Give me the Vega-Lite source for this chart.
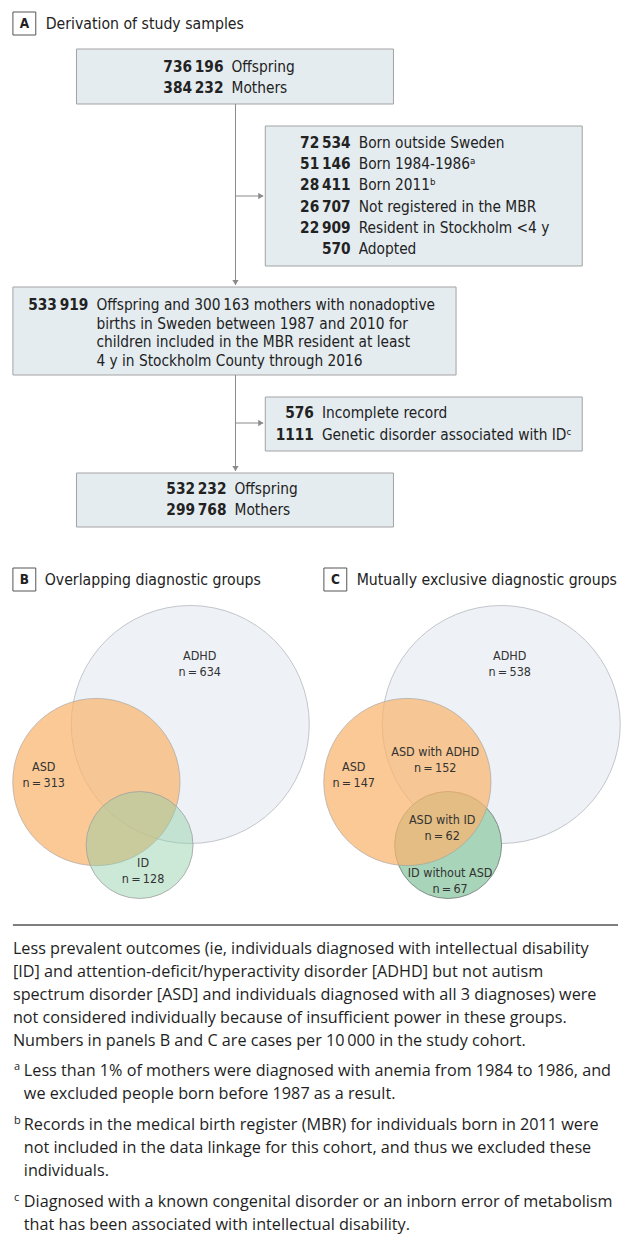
{
  "$schema": "https://vega.github.io/schema/vega-lite/v6.json",
  "width": 622,
  "height": 1244,
  "autosize": {"type": "fit", "contains": "padding"},
  "padding": 0,
  "background": "white",
  "config": {"view": {"stroke": null}},
  "datasets": {
    "boxes": [
      {"box": "top", "x1": 77, "x2": 396, "y1": 49, "y2": 104},
      {"box": "excl1", "x1": 267, "x2": 586, "y1": 126, "y2": 266},
      {"box": "cohort", "x1": 13, "x2": 459, "y1": 287, "y2": 375},
      {"box": "excl2", "x1": 267, "x2": 586, "y1": 397, "y2": 451},
      {"box": "final", "x1": 77, "x2": 396, "y1": 473, "y2": 527}
    ],
    "arrows": [
      {"x1": 237, "y1": 104, "x2": 237, "y2": 285, "dir": "down"},
      {"x1": 237, "y1": 196, "x2": 265, "y2": 196, "dir": "right"},
      {"x1": 237, "y1": 375, "x2": 237, "y2": 471, "dir": "down"},
      {"x1": 237, "y1": 423, "x2": 265, "y2": 423, "dir": "right"}
    ],
    "flow": [
      {"box": "top", "num": 736196, "label": "Offspring", "x": 229, "y": 67},
      {"box": "top", "num": 384232, "label": "Mothers", "x": 229, "y": 88},
      {"box": "excl1", "num": 72534, "label": "Born outside Sweden", "x": 357, "y": 143},
      {"box": "excl1", "num": 51146, "label": "Born 1984-1986ᵃ", "x": 357, "y": 164},
      {"box": "excl1", "num": 28411, "label": "Born 2011ᵇ", "x": 357, "y": 185},
      {"box": "excl1", "num": 26707, "label": "Not registered in the MBR", "x": 357, "y": 207},
      {"box": "excl1", "num": 22909, "label": "Resident in Stockholm <4 y", "x": 357, "y": 228},
      {"box": "excl1", "num": 570, "label": "Adopted", "x": 357, "y": 249},
      {"box": "cohort", "num": 533919, "label": "Offspring and 300\u2009163 mothers with nonadoptive", "x": 93, "y": 305},
      {"box": "cohort", "num": null, "label": "births in Sweden between 1987 and 2010 for", "x": 93, "y": 323.5},
      {"box": "cohort", "num": null, "label": "children included in the MBR resident at least", "x": 93, "y": 342},
      {"box": "cohort", "num": null, "label": "4 y in Stockholm County through 2016", "x": 93, "y": 360.5},
      {"box": "excl2", "num": 576, "label": "Incomplete record", "x": 320, "y": 413},
      {"box": "excl2", "num": 1111, "label": "Genetic disorder associated with IDᶜ", "x": 320, "y": 435},
      {"box": "final", "num": 532232, "label": "Offspring", "x": 232, "y": 489},
      {"box": "final", "num": 299768, "label": "Mothers", "x": 232, "y": 510}
    ],
    "panels": [
      {"tag": "A", "title": "Derivation of study samples", "x1": 13, "x2": 36, "y1": 12, "y2": 35, "cx": 24.5, "cy": 23.5, "tx": 46},
      {"tag": "B", "title": "Overlapping diagnostic groups", "x1": 13, "x2": 36, "y1": 568, "y2": 591, "cx": 24.5, "cy": 579.5, "tx": 45},
      {"tag": "C", "title": "Mutually exclusive diagnostic groups", "x1": 326, "x2": 349, "y1": 568, "y2": 591, "cx": 337.5, "cy": 579.5, "tx": 359}
    ],
    "circles": [
      {"panel": "B", "set": "ADHD", "n": 634, "x": 191.5, "y": 724.5},
      {"panel": "B", "set": "ASD", "n": 313, "x": 97, "y": 782},
      {"panel": "B", "set": "ID", "n": 128, "x": 140.5, "y": 845},
      {"panel": "C", "set": "ADHD", "n": 634, "x": 504.5, "y": 724.5},
      {"panel": "C", "set": "ASD", "n": 313, "x": 410, "y": 782},
      {"panel": "C", "set": "ID", "n": 128, "x": 451, "y": 845}
    ],
    "vennLabels": [
      {"panel": "B", "group": "ADHD", "n": 634, "x": 201, "y": 656},
      {"panel": "B", "group": "ASD", "n": 313, "x": 44, "y": 767},
      {"panel": "B", "group": "ID", "n": 128, "x": 144, "y": 863},
      {"panel": "C", "group": "ADHD", "n": 538, "x": 513, "y": 656},
      {"panel": "C", "group": "ASD", "n": 147, "x": 356, "y": 767},
      {"panel": "C", "group": "ASD with ADHD", "n": 152, "x": 438, "y": 752},
      {"panel": "C", "group": "ASD with ID", "n": 62, "x": 445, "y": 820},
      {"panel": "C", "group": "ID without ASD", "n": 67, "x": 453, "y": 873}
    ],
    "separator": [{"x1": 13, "x2": 622, "y": 925}],
    "notes": [
      {"note": "main", "text": "Less prevalent outcomes (ie, individuals diagnosed with intellectual disability", "x": 13, "y": 949},
      {"note": "main", "text": "[ID] and attention-deficit/hyperactivity disorder [ADHD] but not autism", "x": 13, "y": 972},
      {"note": "main", "text": "spectrum disorder [ASD] and individuals diagnosed with all 3 diagnoses) were", "x": 13, "y": 995},
      {"note": "main", "text": "not considered individually because of insufficient power in these groups.", "x": 13, "y": 1018},
      {"note": "main", "text": "Numbers in panels B and C are cases per 10\u2009000 in the study cohort.", "x": 13, "y": 1041},
      {"note": "a", "text": "Less than 1% of mothers were diagnosed with anemia from 1984 to 1986, and", "x": 24, "y": 1071},
      {"note": "a", "text": "we excluded people born before 1987 as a result.", "x": 24, "y": 1094},
      {"note": "b", "text": "Records in the medical birth register (MBR) for individuals born in 2011 were", "x": 24, "y": 1125},
      {"note": "b", "text": "not included in the data linkage for this cohort, and thus we excluded these", "x": 24, "y": 1148},
      {"note": "b", "text": "individuals.", "x": 24, "y": 1171},
      {"note": "c", "text": "Diagnosed with a known congenital disorder or an inborn error of metabolism", "x": 24, "y": 1202},
      {"note": "c", "text": "that has been associated with intellectual disability.", "x": 24, "y": 1225}
    ],
    "noteMarks": [
      {"sup": "a", "x": 14, "y": 1071},
      {"sup": "b", "x": 14, "y": 1125},
      {"sup": "c", "x": 14, "y": 1202}
    ]
  },
  "layer": [
    {
      "data": {"name": "boxes"},
      "mark": {"type": "rect", "fill": "#e4ecf0", "stroke": "#a3a3a3", "strokeWidth": 1},
      "encoding": {
        "x": {"field": "x1", "type": "quantitative", "scale": {"domain": [0, 622], "nice": false, "zero": false}, "axis": null},
        "x2": {"field": "x2"},
        "y": {"field": "y1", "type": "quantitative", "scale": {"domain": [0, 1244], "nice": false, "zero": false, "reverse": true}, "axis": null},
        "y2": {"field": "y2"}
      }
    },
    {
      "data": {"name": "arrows"},
      "mark": {"type": "rule", "color": "#8a8a8a", "strokeWidth": 1},
      "encoding": {
        "x": {"field": "x1", "type": "quantitative", "scale": {"domain": [0, 622], "nice": false, "zero": false}, "axis": null},
        "x2": {"field": "x2"},
        "y": {"field": "y1", "type": "quantitative", "scale": {"domain": [0, 1244], "nice": false, "zero": false, "reverse": true}, "axis": null},
        "y2": {"field": "y2"}
      }
    },
    {
      "data": {"name": "arrows"},
      "mark": {"type": "point", "filled": true, "color": "#8a8a8a", "opacity": 1, "size": 40, "strokeWidth": 0},
      "encoding": {
        "x": {"field": "x2", "type": "quantitative", "scale": {"domain": [0, 622], "nice": false, "zero": false}, "axis": null},
        "y": {"field": "y2", "type": "quantitative", "scale": {"domain": [0, 1244], "nice": false, "zero": false, "reverse": true}, "axis": null},
        "shape": {"field": "dir", "type": "nominal", "scale": {"domain": ["down", "right"], "range": ["M0,0L-1,-1.6L1,-1.6Z", "M0,0L-1.6,-1L-1.6,1Z"]}, "legend": null}
      }
    },
    {
      "data": {"name": "flow"},
      "transform": [
        {"filter": "datum.num != null"},
        {"calculate": "datum.num >= 10000 ? replace(format(datum.num, ','), ',', '\u2009') : format(datum.num, 'd')", "as": "numText"}
      ],
      "mark": {"type": "text", "align": "right", "baseline": "middle", "dx": -4, "font": "DejaVu Sans Condensed, DejaVu Sans, sans-serif", "fontSize": 15.3, "fontWeight": "bold", "color": "#222222"},
      "encoding": {
        "x": {"field": "x", "type": "quantitative", "scale": {"domain": [0, 622], "nice": false, "zero": false}, "axis": null},
        "y": {"field": "y", "type": "quantitative", "scale": {"domain": [0, 1244], "nice": false, "zero": false, "reverse": true}, "axis": null},
        "text": {"field": "numText"}
      }
    },
    {
      "data": {"name": "flow"},
      "mark": {"type": "text", "align": "left", "baseline": "middle", "dx": 4, "font": "DejaVu Sans Condensed, DejaVu Sans, sans-serif", "fontSize": 15.3, "color": "#222222"},
      "encoding": {
        "x": {"field": "x", "type": "quantitative", "scale": {"domain": [0, 622], "nice": false, "zero": false}, "axis": null},
        "y": {"field": "y", "type": "quantitative", "scale": {"domain": [0, 1244], "nice": false, "zero": false, "reverse": true}, "axis": null},
        "text": {"field": "label"}
      }
    },
    {
      "data": {"name": "panels"},
      "mark": {"type": "rect", "fill": "white", "stroke": "#555555", "strokeWidth": 1},
      "encoding": {
        "x": {"field": "x1", "type": "quantitative", "scale": {"domain": [0, 622], "nice": false, "zero": false}, "axis": null},
        "x2": {"field": "x2"},
        "y": {"field": "y1", "type": "quantitative", "scale": {"domain": [0, 1244], "nice": false, "zero": false, "reverse": true}, "axis": null},
        "y2": {"field": "y2"}
      }
    },
    {
      "data": {"name": "panels"},
      "mark": {"type": "text", "align": "center", "baseline": "middle", "font": "DejaVu Sans Condensed, DejaVu Sans, sans-serif", "fontSize": 13.5, "fontWeight": "bold", "color": "#222222"},
      "encoding": {
        "x": {"field": "cx", "type": "quantitative", "scale": {"domain": [0, 622], "nice": false, "zero": false}, "axis": null},
        "y": {"field": "cy", "type": "quantitative", "scale": {"domain": [0, 1244], "nice": false, "zero": false, "reverse": true}, "axis": null},
        "text": {"field": "tag"}
      }
    },
    {
      "data": {"name": "panels"},
      "mark": {"type": "text", "align": "left", "baseline": "middle", "font": "DejaVu Sans Condensed, DejaVu Sans, sans-serif", "fontSize": 15.7, "color": "#222222"},
      "encoding": {
        "x": {"field": "tx", "type": "quantitative", "scale": {"domain": [0, 622], "nice": false, "zero": false}, "axis": null},
        "y": {"field": "cy", "type": "quantitative", "scale": {"domain": [0, 1244], "nice": false, "zero": false, "reverse": true}, "axis": null},
        "text": {"field": "title"}
      }
    },
    {
      "data": {"name": "circles"},
      "transform": [{"filter": "datum.set == 'ADHD'"}],
      "mark": {"type": "point", "shape": "circle", "filled": true, "fill": "#eef2f6", "fillOpacity": 1, "stroke": "#c2c6cb", "strokeWidth": 1, "strokeOpacity": 1},
      "encoding": {
        "x": {"field": "x", "type": "quantitative", "scale": {"domain": [0, 622], "nice": false, "zero": false}, "axis": null},
        "y": {"field": "y", "type": "quantitative", "scale": {"domain": [0, 1244], "nice": false, "zero": false, "reverse": true}, "axis": null},
        "size": {"field": "n", "type": "quantitative", "scale": {"type": "linear", "domain": [0, 634], "range": [0, 56644], "zero": true}, "legend": null}
      }
    },
    {
      "data": {"name": "circles"},
      "transform": [{"filter": "datum.panel == 'B' && datum.set == 'ASD'"}],
      "mark": {"type": "point", "shape": "circle", "filled": true, "fill": "#f9b46e", "fillOpacity": 0.72, "stroke": "#9e9e9e", "strokeWidth": 1, "strokeOpacity": 0.6},
      "encoding": {
        "x": {"field": "x", "type": "quantitative", "scale": {"domain": [0, 622], "nice": false, "zero": false}, "axis": null},
        "y": {"field": "y", "type": "quantitative", "scale": {"domain": [0, 1244], "nice": false, "zero": false, "reverse": true}, "axis": null},
        "size": {"field": "n", "type": "quantitative", "scale": {"type": "linear", "domain": [0, 634], "range": [0, 56644], "zero": true}, "legend": null}
      }
    },
    {
      "data": {"name": "circles"},
      "transform": [{"filter": "datum.panel == 'C' && datum.set == 'ID'"}],
      "mark": {"type": "point", "shape": "circle", "filled": true, "fill": "#a8d5b9", "fillOpacity": 1, "stroke": "#7f8f86", "strokeWidth": 1, "strokeOpacity": 1},
      "encoding": {
        "x": {"field": "x", "type": "quantitative", "scale": {"domain": [0, 622], "nice": false, "zero": false}, "axis": null},
        "y": {"field": "y", "type": "quantitative", "scale": {"domain": [0, 1244], "nice": false, "zero": false, "reverse": true}, "axis": null},
        "size": {"field": "n", "type": "quantitative", "scale": {"type": "linear", "domain": [0, 634], "range": [0, 56644], "zero": true}, "legend": null}
      }
    },
    {
      "data": {"name": "circles"},
      "transform": [{"filter": "datum.panel == 'B' && datum.set == 'ID'"}],
      "mark": {"type": "point", "shape": "circle", "filled": true, "fill": "#8fcfa6", "fillOpacity": 0.45, "stroke": "#a0a0a0", "strokeWidth": 1, "strokeOpacity": 0.8},
      "encoding": {
        "x": {"field": "x", "type": "quantitative", "scale": {"domain": [0, 622], "nice": false, "zero": false}, "axis": null},
        "y": {"field": "y", "type": "quantitative", "scale": {"domain": [0, 1244], "nice": false, "zero": false, "reverse": true}, "axis": null},
        "size": {"field": "n", "type": "quantitative", "scale": {"type": "linear", "domain": [0, 634], "range": [0, 56644], "zero": true}, "legend": null}
      }
    },
    {
      "data": {"name": "circles"},
      "transform": [{"filter": "datum.panel == 'C' && datum.set == 'ASD'"}],
      "mark": {"type": "point", "shape": "circle", "filled": true, "fill": "#f9b46e", "fillOpacity": 0.72, "stroke": "#9e9e9e", "strokeWidth": 1, "strokeOpacity": 0.6},
      "encoding": {
        "x": {"field": "x", "type": "quantitative", "scale": {"domain": [0, 622], "nice": false, "zero": false}, "axis": null},
        "y": {"field": "y", "type": "quantitative", "scale": {"domain": [0, 1244], "nice": false, "zero": false, "reverse": true}, "axis": null},
        "size": {"field": "n", "type": "quantitative", "scale": {"type": "linear", "domain": [0, 634], "range": [0, 56644], "zero": true}, "legend": null}
      }
    },
    {
      "data": {"name": "vennLabels"},
      "mark": {"type": "text", "align": "center", "baseline": "middle", "font": "DejaVu Sans Condensed, DejaVu Sans, sans-serif", "fontSize": 12.5, "color": "#333333"},
      "encoding": {
        "x": {"field": "x", "type": "quantitative", "scale": {"domain": [0, 622], "nice": false, "zero": false}, "axis": null},
        "y": {"field": "y", "type": "quantitative", "scale": {"domain": [0, 1244], "nice": false, "zero": false, "reverse": true}, "axis": null},
        "text": {"field": "group"}
      }
    },
    {
      "data": {"name": "vennLabels"},
      "transform": [{"calculate": "'n\u2009=\u2009' + datum.n", "as": "nText"}],
      "mark": {"type": "text", "align": "center", "baseline": "middle", "dy": 16, "font": "DejaVu Sans Condensed, DejaVu Sans, sans-serif", "fontSize": 12.5, "color": "#333333"},
      "encoding": {
        "x": {"field": "x", "type": "quantitative", "scale": {"domain": [0, 622], "nice": false, "zero": false}, "axis": null},
        "y": {"field": "y", "type": "quantitative", "scale": {"domain": [0, 1244], "nice": false, "zero": false, "reverse": true}, "axis": null},
        "text": {"field": "nText"}
      }
    },
    {
      "data": {"name": "separator"},
      "mark": {"type": "rule", "color": "#555555", "strokeWidth": 1.5},
      "encoding": {
        "x": {"field": "x1", "type": "quantitative", "scale": {"domain": [0, 622], "nice": false, "zero": false}, "axis": null},
        "x2": {"field": "x2"},
        "y": {"field": "y", "type": "quantitative", "scale": {"domain": [0, 1244], "nice": false, "zero": false, "reverse": true}, "axis": null}
      }
    },
    {
      "data": {"name": "notes"},
      "mark": {"type": "text", "align": "left", "baseline": "middle", "font": "Open Sans, sans-serif", "fontSize": 16.2, "color": "#1e1e1e"},
      "encoding": {
        "x": {"field": "x", "type": "quantitative", "scale": {"domain": [0, 622], "nice": false, "zero": false}, "axis": null},
        "y": {"field": "y", "type": "quantitative", "scale": {"domain": [0, 1244], "nice": false, "zero": false, "reverse": true}, "axis": null},
        "text": {"field": "text"}
      }
    },
    {
      "data": {"name": "noteMarks"},
      "mark": {"type": "text", "align": "left", "baseline": "middle", "dy": -4, "font": "Open Sans, sans-serif", "fontSize": 11, "color": "#1e1e1e"},
      "encoding": {
        "x": {"field": "x", "type": "quantitative", "scale": {"domain": [0, 622], "nice": false, "zero": false}, "axis": null},
        "y": {"field": "y", "type": "quantitative", "scale": {"domain": [0, 1244], "nice": false, "zero": false, "reverse": true}, "axis": null},
        "text": {"field": "sup"}
      }
    }
  ]
}
